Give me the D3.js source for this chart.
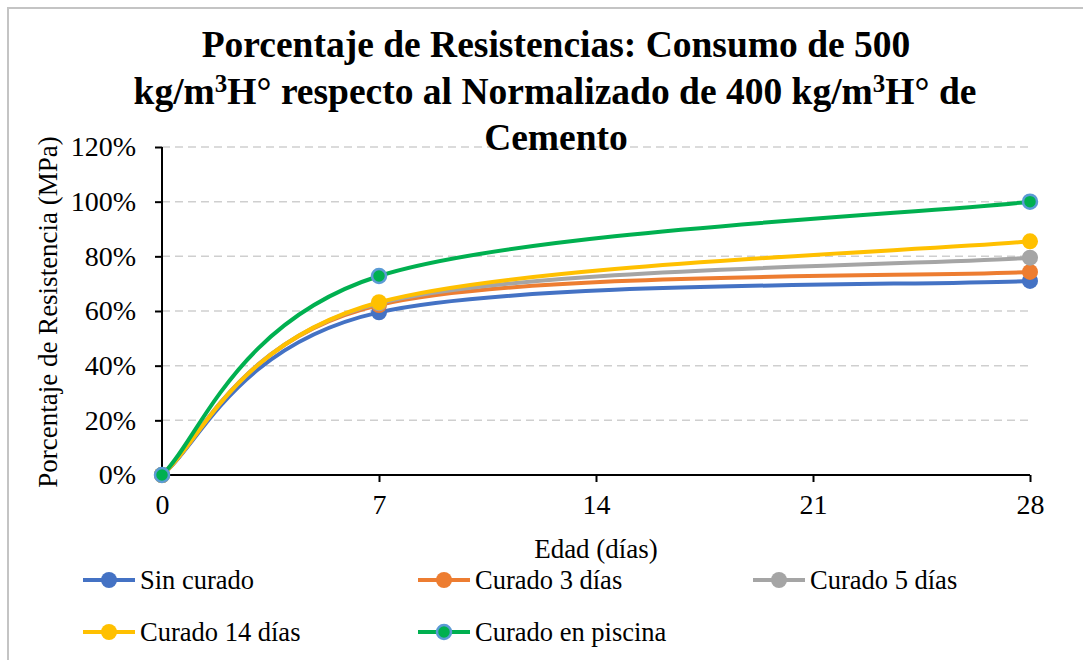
<!DOCTYPE html>
<html>
<head>
<meta charset="utf-8">
<script src="https://cdn.jsdelivr.net/npm/d3@7"></script>
<style>
  body { margin: 0; background: #fff; }
</style>
</head>
<body>
<div class="chart"></div>
<script>
// data
var edades = [0, 7, 28];
var xTicks = [0, 7, 14, 21, 28];
var yTicks = [0, 0.2, 0.4, 0.6, 0.8, 1.0, 1.2];
var series = ["Sin curado", "Curado 3 días", "Curado 5 días", "Curado 14 días", "Curado en piscina"];
var sinCurado = [0, 0.595, 0.71];
var curado3 = [0, 0.622, 0.743];
var curado5 = [0, 0.628, 0.795];
var curado14 = [0, 0.632, 0.855];
var piscina = [0, 0.728, 1.0];
var colores = ["#4472c4", "#ed7d31", "#a5a5a5", "#ffc000", "#00b050"];

var valores = [sinCurado, curado3, curado5, curado14, piscina];

var width = 1083;
var height = 660;
var serif = "Liberation Serif";

var svg = d3.select(".chart").append("svg")
    .attr("width", width)
    .attr("height", height);

// frame (cropped on right/bottom)
svg.append("path")
    .attr("d", "M8,660 L8,8 L1083,8")
    .attr("fill", "none")
    .attr("stroke", "#c4c4c4")
    .attr("stroke-width", 2);

var x = d3.scaleLinear().domain([0, 28]).range([162, 1030]);
var y = d3.scaleLinear().domain([0, 1.2]).range([475, 147]);

// grid
svg.append("g")
  .selectAll("line")
    .data(yTicks.slice(1))
  .enter().append("line")
    .attr("x1", x(0)).attr("x2", x(28))
    .attr("y1", function(d){ return y(d); })
    .attr("y2", function(d){ return y(d); })
    .attr("stroke", "#cfcfcf")
    .attr("stroke-width", 1.5)
    .attr("stroke-dasharray", "8,5");

// title
var titulo = svg.append("text")
    .attr("text-anchor", "middle")
    .style("font-size", "37.5px")
    .style("font-weight", "bold");
titulo.append("tspan").attr("x", 556).attr("y", 57).text("Porcentaje de Resistencias: Consumo de 500");
var t2 = titulo.append("tspan").attr("x", 555).attr("y", 104);
t2.append("tspan").text("kg/m");
t2.append("tspan").attr("dy", -12).style("font-size", "25px").text("3");
t2.append("tspan").attr("dy", 12).text("H° respecto al Normalizado de 400 kg/m");
t2.append("tspan").attr("dy", -12).style("font-size", "25px").text("3");
t2.append("tspan").attr("dy", 12).text("H° de");
titulo.append("tspan").attr("x", 556).attr("y", 150).text("Cemento");

// axes
var yAxis = d3.axisLeft(y).tickValues(yTicks).tickSize(7).tickPadding(19)
    .tickFormat(function(d){ return Math.round(d * 100) + "%"; });
var gy = svg.append("g").attr("transform", "translate(" + x(0) + ",0)").call(yAxis);

var xAxis = d3.axisBottom(x).tickValues(xTicks).tickSize(7).tickPadding(12)
    .tickFormat(d3.format("d"));
var gx = svg.append("g").attr("transform", "translate(0," + y(0) + ")").call(xAxis);

[gx, gy].forEach(function(g){
  g.attr("font-family", null).attr("font-size", null);
  g.select(".domain").attr("stroke", "#000").attr("stroke-width", 2)
    .attr("d", g === gx ? "M" + x(0) + ",0H" + x(28) : "M0," + y(0) + "V" + y(1.2));
  g.selectAll(".tick line").attr("stroke", "#000").attr("stroke-width", 2);
  g.selectAll(".tick text")
    .style("font-size", "28px")
    .attr("fill", "#000");
});
gx.selectAll(".tick").filter(function(d){ return d === 0; }).select("line").remove();

// axis titles
svg.append("text")
    .attr("x", 596).attr("y", 558)
    .attr("text-anchor", "middle")
    .style("font-size", "27px")
    .text("Edad (días)");

svg.append("text")
    .attr("transform", "translate(57,312) rotate(-90)")
    .attr("text-anchor", "middle")
    .style("font-size", "27px")
    .text("Porcentaje de Resistencia (MPa)");

// Excel-style smoothing: cubic bezier, control points at 1/6 of neighbour span
function suavizado(pts) {
  var p = d3.path();
  p.moveTo(pts[0][0], pts[0][1]);
  for (var i = 0; i < pts.length - 1; i++) {
    var a = pts[i - 1] || pts[i], b = pts[i], c = pts[i + 1], e = pts[i + 2] || pts[i + 1];
    p.bezierCurveTo(
      b[0] + (c[0] - a[0]) / 6, b[1] + (c[1] - a[1]) / 6,
      c[0] - (e[0] - b[0]) / 6, c[1] - (e[1] - b[1]) / 6,
      c[0], c[1]);
  }
  return p.toString();
}

valores.forEach(function(vals, k){
  var pts = vals.map(function(v, i){ return [x(edades[i]), y(v)]; });

  svg.append("path")
      .attr("d", suavizado(pts))
      .attr("fill", "none")
      .attr("stroke", colores[k])
      .attr("stroke-width", 4)
      .attr("stroke-linecap", "round");

  svg.append("g")
    .selectAll("circle")
      .data(vals)
    .enter().append("circle")
      .attr("cx", function(d, i){ return x(edades[i]); })
      .attr("cy", function(d){ return y(d); })
      .attr("r", k === 4 ? 7 : 8)
      .attr("fill", colores[k])
      .attr("stroke", k === 4 ? "#5b9bd5" : colores[k])
      .attr("stroke-width", k === 4 ? 2.5 : 0);
});

// legend
var legendPos = [[83, 580], [418, 580], [753, 580], [83, 632], [418, 632]];
var legend = svg.append("g")
  .selectAll("g")
    .data(series)
  .enter().append("g")
    .attr("transform", function(d, i){ return "translate(" + legendPos[i][0] + "," + legendPos[i][1] + ")"; });

legend.append("line")
    .attr("x1", 0).attr("x2", 52)
    .attr("stroke", function(d, i){ return colores[i]; })
    .attr("stroke-width", 4);
legend.append("circle")
    .attr("cx", 26)
    .attr("r", function(d, i){ return i === 4 ? 7 : 8; })
    .attr("fill", function(d, i){ return colores[i]; })
    .attr("stroke", function(d, i){ return i === 4 ? "#5b9bd5" : colores[i]; })
    .attr("stroke-width", function(d, i){ return i === 4 ? 2.5 : 0; });
legend.append("text")
    .attr("x", 57).attr("y", 9)
    .style("font-size", "26.5px")
    .text(function(d){ return d; });

svg.selectAll("text").style("font-family", serif);
</script>
</body>
</html>
